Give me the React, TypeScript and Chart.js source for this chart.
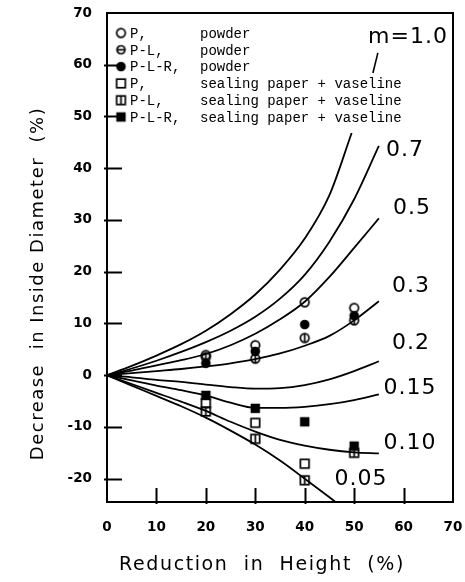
import React, { useEffect, useRef } from "react";
import { Chart, registerables } from "chart.js";

Chart.register(...registerables);

// ---- Data ----
const curveX = [0, 5, 10, 15, 20, 25, 30, 35, 40, 45, 50, 55];
const curveM10X = [0, 5, 10, 15, 20, 25, 30, 35, 40, 45, 49.5];
const curveM10 = [0, 1.8, 3.8, 6.0, 8.6, 11.8, 15.6, 20.4, 26.4, 34.8, 46.8];
const curveM07 = [0, 1.3, 2.8, 4.5, 6.4, 8.6, 11.3, 14.8, 19.4, 25.8, 34.0, 44.3];
const curveM05 = [0, 0.9, 1.9, 2.9, 4.1, 5.8, 8.0, 10.8, 14.2, 19.0, 24.6, 30.3];
const curveM03 = [0, 0.4, 0.8, 1.2, 1.7, 2.3, 3.1, 4.2, 5.7, 7.6, 10.6, 14.3];
const curveM02 = [0, -0.4, -0.9, -1.3, -1.8, -2.3, -2.6, -2.5, -1.9, -0.8, 0.8, 2.7];
const curveM015 = [0, -1.0, -2.0, -2.9, -3.9, -5.3, -6.3, -6.3, -6.1, -5.6, -4.8, -3.7];
const curveM010 = [0, -1.7, -3.4, -5.1, -6.9, -9.0, -10.9, -12.5, -13.6, -14.4, -14.9, -15.1];
const curveM005X = [0, 5, 10, 15, 20, 25, 30, 35, 40, 45, 48];
const curveM005 = [0, -2.0, -4.0, -6.0, -8.2, -10.7, -13.4, -16.5, -20.0, -23.6, -25.8];

const testX = [20, 30, 40, 50];
const pPowder = [3.9, 5.8, 14.1, 13.0];
const plPowder = [3.5, 3.2, 7.2, 10.6];
const plrPowder = [2.3, 4.6, 9.8, 11.5];
const pSeal = [-5.4, -9.2, -17.1, null];
const plSeal = [-7.0, -12.3, -20.3, -15.0];
const plrSeal = [-3.9, -6.4, -9.0, -13.7];

const curveLabels = ["m=1.0", "0.7", "0.5", "0.3", "0.2", "0.15", "0.10", "0.05"];
const legendIds = ["P,", "P-L,", "P-L-R,", "P,", "P-L,", "P-L-R,"];
const legendMedia = [
  "powder",
  "powder",
  "powder",
  "sealing paper + vaseline",
  "sealing paper + vaseline",
  "sealing paper + vaseline",
];
const xTitle = "Reduction  in  Height  (%)";
const yTitle = "Decrease  in Inside Diameter  (%)";

// label anchor positions (data coords) for curve annotations
const labelPos: [number, number][] = [
  [60.9, 65.4],
  [60.3, 43.5],
  [61.7, 32.3],
  [61.5, 17.1],
  [61.5, 6.2],
  [61.3, -2.5],
  [61.3, -13.1],
  [51.4, -20.2],
];

function pts(xs: number[], ys: (number | null)[]) {
  return xs.map((x, i) => ({ x, y: ys[i] as number })).filter((p) => p.y !== null);
}

function mk(draw: (g: CanvasRenderingContext2D) => void) {
  const c = document.createElement("canvas");
  c.width = 13;
  c.height = 13;
  const g = c.getContext("2d")!;
  g.strokeStyle = "#000";
  g.fillStyle = "#000";
  g.lineWidth = 1.7;
  draw(g);
  return c;
}

function makeMarkers() {
  const openCircle = mk((g) => {
    g.beginPath();
    g.arc(6.5, 6.5, 4.3, 0, Math.PI * 2);
    g.stroke();
  });
  const barCircleV = mk((g) => {
    g.beginPath();
    g.arc(6.5, 6.5, 4.3, 0, Math.PI * 2);
    g.stroke();
    g.beginPath();
    g.moveTo(6.5, 2.2);
    g.lineTo(6.5, 10.8);
    g.stroke();
  });
  const barCircleH = mk((g) => {
    g.beginPath();
    g.arc(6.5, 6.5, 4, 0, Math.PI * 2);
    g.stroke();
    g.beginPath();
    g.moveTo(2.5, 6.5);
    g.lineTo(10.5, 6.5);
    g.stroke();
  });
  const filledCircle = mk((g) => {
    g.beginPath();
    g.arc(6.5, 6.5, 4.8, 0, Math.PI * 2);
    g.fill();
  });
  const openSquare = mk((g) => {
    g.strokeRect(2.2, 2.2, 8.6, 8.6);
  });
  const barSquare = mk((g) => {
    g.strokeRect(2.2, 2.2, 8.6, 8.6);
    g.beginPath();
    g.moveTo(6.5, 2.2);
    g.lineTo(6.5, 10.8);
    g.stroke();
  });
  const filledSquare = mk((g) => {
    g.fillRect(1.8, 1.8, 9.4, 9.4);
  });
  return {
    plot: [openCircle, barCircleV, filledCircle, openSquare, barSquare, filledSquare],
    legend: [openCircle, barCircleH, filledCircle, openSquare, barSquare, filledSquare],
  };
}

export default function App() {
  const ref = useRef<HTMLCanvasElement>(null);

  useEffect(() => {
    const markers = makeMarkers();

    const curveSets = [
      pts(curveM10X, curveM10),
      pts(curveX, curveM07),
      pts(curveX, curveM05),
      pts(curveX, curveM03),
      pts(curveX, curveM02),
      pts(curveX, curveM015),
      pts(curveX, curveM010),
      pts(curveM005X, curveM005),
    ].map((data, i) => ({
      label: curveLabels[i],
      data,
      showLine: true,
      borderColor: "#000",
      borderWidth: 1.8,
      pointRadius: 0,
      cubicInterpolationMode: "monotone" as const,
      fill: false,
    }));

    const pointSets = [pPowder, plPowder, plrPowder, pSeal, plSeal, plrSeal].map((ys, i) => ({
      label: legendIds[i] + " " + legendMedia[i],
      data: pts(testX, ys),
      showLine: false,
      pointStyle: markers.plot[i] as any,
      pointRadius: 5,
      borderColor: "#000",
      backgroundColor: "#000",
    }));

    const decorPlugin = {
      id: "decor",
      afterDraw(chart: any) {
        const { ctx, chartArea: a, scales } = chart;
        const xs = scales.x;
        const ys = scales.y;
        ctx.save();
        ctx.strokeStyle = "#000";
        ctx.fillStyle = "#000";
        // frame
        ctx.lineWidth = 2;
        ctx.strokeRect(a.left, a.top, a.right - a.left, a.bottom - a.top);
        // inward ticks
        ctx.lineWidth = 2;
        ys.ticks.forEach((t: any) => {
          if (t.value >= 70 || t.value % 10 !== 0) return;
          const py = Math.round(ys.getPixelForValue(t.value)) + 0.5;
          ctx.beginPath();
          ctx.moveTo(a.left - 3, py);
          ctx.lineTo(a.left + 15, py);
          ctx.stroke();
        });
        xs.ticks.forEach((t: any) => {
          if (t.value <= 0 || t.value >= 70) return;
          const px = Math.round(xs.getPixelForValue(t.value)) + 0.5;
          ctx.beginPath();
          ctx.moveTo(px, a.bottom + 2);
          ctx.lineTo(px, a.bottom - 14);
          ctx.stroke();
        });

        // legend
        const rowY0 = 33;
        const rowH = 16.8;
        ctx.font = '14px "Liberation Mono"';
        ctx.textBaseline = "middle";
        ctx.textAlign = "left";
        legendIds.forEach((id, i) => {
          const y = rowY0 + i * rowH;
          const m = markers.legend[i];
          ctx.drawImage(m, 121 - 6.5, y - 6.5);
          ctx.fillText(id, 130, y + 1);
          ctx.fillText(legendMedia[i], 200, y + 1);
        });

        // curve labels
        ctx.font = '22px "DejaVu Sans"';
        (ctx as any).letterSpacing = "1px";
        ctx.textAlign = "center";
        ctx.textBaseline = "middle";
        curveLabels.forEach((lab, i) => {
          const [dx, dy] = labelPos[i];
          ctx.fillText(lab, xs.getPixelForValue(dx), ys.getPixelForValue(dy));
        });
        // leader for m=1.0
        ctx.lineWidth = 1.6;
        ctx.beginPath();
        ctx.moveTo(xs.getPixelForValue(54.8), ys.getPixelForValue(62.3));
        ctx.lineTo(xs.getPixelForValue(53.8), ys.getPixelForValue(58.4));
        ctx.stroke();

        // axis titles
        ctx.font = '19px "DejaVu Sans"';
        (ctx as any).letterSpacing = "1.6px";
        ctx.textAlign = "center";
        ctx.textBaseline = "alphabetic";
        ctx.fillText(xTitle, (a.left + a.right) / 2 - 18, 570);

        ctx.font = '18px "DejaVu Sans"';
        (ctx as any).letterSpacing = "1.5px";
        ctx.translate(43, 283.5);
        ctx.rotate(-Math.PI / 2);
        ctx.fillText(yTitle, 0, 0);
        ctx.restore();
      },
    };

    const chart = new Chart(ref.current!, {
      type: "scatter",
      data: { datasets: [...pointSets, ...curveSets] as any },
      options: {
        animation: false,
        responsive: false,
        devicePixelRatio: 1,
        layout: { padding: { top: 13, right: 12, left: 0, bottom: 0 } },
        plugins: { legend: { display: false }, tooltip: { enabled: false } },
        scales: {
          x: {
            type: "linear",
            min: 0,
            max: 70,
            grid: { display: false, drawTicks: false },
            border: { display: false },
            ticks: {
              stepSize: 10,
              padding: 17,
              color: "#000",
              font: { family: '"DejaVu Sans"', size: 13.5, weight: "bold" },
              maxRotation: 0,
            },
            afterFit: (s: any) => {
              s.height = 80;
              s.paddingLeft = 0;
              s.paddingRight = 0;
            },
          },
          y: {
            type: "linear",
            min: -24.5,
            max: 70,
            grid: { display: false, drawTicks: false },
            border: { display: false },
            ticks: {
              stepSize: 10,
              includeBounds: false,
              padding: 15,
              color: "#000",
              font: { family: '"DejaVu Sans"', size: 13.5, weight: "bold" },
            },
            afterFit: (s: any) => {
              s.width = 107;
              s.paddingTop = 0;
              s.paddingBottom = 0;
            },
          },
        },
      },
      plugins: [decorPlugin],
    } as any);

    return () => chart.destroy();
  }, []);

  return (
    <div style={{ position: "fixed", left: 0, top: 0, width: 465, height: 582, background: "#fff" }}>
      <canvas ref={ref} width={465} height={582} style={{ display: "block", width: 465, height: 582 }} />
    </div>
  );
}
